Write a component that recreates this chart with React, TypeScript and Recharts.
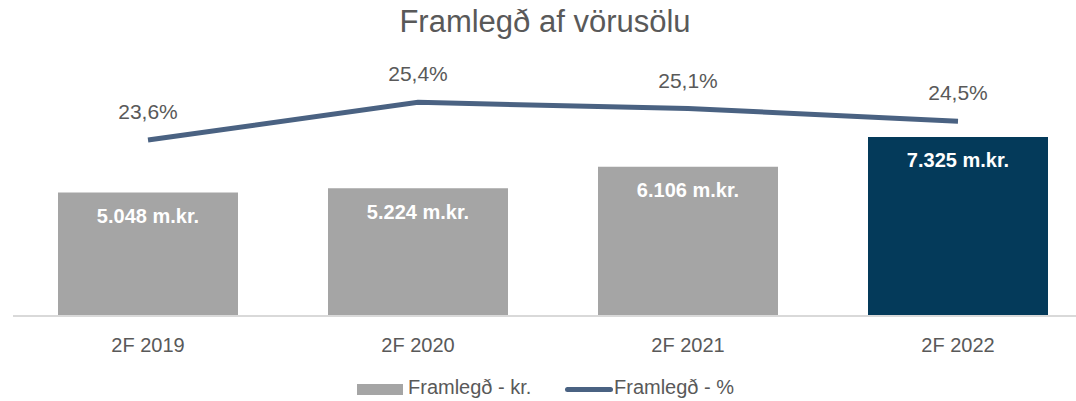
import { Bar, Cell, ComposedChart, LabelList, Line, XAxis, YAxis } from "recharts";

const categories = ["2F 2019", "2F 2020", "2F 2021", "2F 2022"];
const framlegdKr = [5048, 5224, 6106, 7325];
const framlegdPct = [23.6, 25.4, 25.1, 24.5];

const GREY_BAR = "#A5A5A5";
const NAVY_BAR = "#043A5A";
const LINE_COLOR = "#4A6282";
const TEXT = "#595959";
const FONT = "'Liberation Sans', Arial, sans-serif";

const data = categories.map((name, i) => ({
  name,
  kr: framlegdKr[i],
  pct: framlegdPct[i],
}));

const fmtKr = (v: number) =>
  `${Math.floor(v / 1000)}.${String(v % 1000).padStart(3, "0")} m.kr.`;
const fmtPct = (v: number) => `${v.toFixed(1).replace(".", ",")}%`;

export default function App() {
  return (
    <div
      style={{
        position: "absolute",
        left: 0,
        top: 0,
        width: 1076,
        height: 401,
        overflow: "hidden",
        background: "#fff",
        fontFamily: FONT,
      }}
    >
      <div
        style={{
          position: "absolute",
          top: 4,
          left: 0,
          width: 1090,
          textAlign: "center",
          fontSize: 31,
          color: TEXT,
          whiteSpace: "nowrap",
        }}
      >
        Framlegð af vörusölu
      </div>

      <ComposedChart
        width={1100}
        height={401}
        data={data}
        margin={{ top: 96, right: 7, bottom: 40, left: 13 }}
        style={{ position: "absolute", left: 0, top: 0 }}
      >
        <XAxis
          dataKey="name"
          axisLine={{ stroke: "#D9D9D9", strokeWidth: 2 }}
          tickLine={false}
          tickSize={0}
          tickMargin={22}
          height={45}
          tick={{ fill: TEXT, fontSize: 20, fontFamily: FONT }}
        />
        <YAxis yAxisId="kr" domain={[0, 9000]} hide />
        <YAxis yAxisId="pct" orientation="right" domain={[15.2, 25.7]} hide />
        <Bar yAxisId="kr" dataKey="kr" barSize={180} isAnimationActive={false}>
          {data.map((_, i) => (
            <Cell key={i} fill={i === data.length - 1 ? NAVY_BAR : GREY_BAR} />
          ))}
          <LabelList
            dataKey="kr"
            position="insideTop"
            offset={16}
            formatter={(v: number) => fmtKr(v)}
            style={{ fill: "#fff", fontSize: 20, fontWeight: "bold", fontFamily: FONT }}
          />
        </Bar>
        <Line
          yAxisId="pct"
          dataKey="pct"
          stroke={LINE_COLOR}
          strokeWidth={5}
          dot={false}
          activeDot={false}
          isAnimationActive={false}
        >
          <LabelList
            dataKey="pct"
            position="top"
            offset={21}
            formatter={(v: number) => fmtPct(v)}
            style={{ fill: TEXT, fontSize: 21, fontFamily: FONT }}
          />
        </Line>
      </ComposedChart>

      <div style={{ position: "absolute", left: 357, top: 384, width: 46, height: 11, background: GREY_BAR }} />
      <div style={{ position: "absolute", left: 408, top: 376, fontSize: 20, color: TEXT, whiteSpace: "nowrap" }}>
        Framlegð - kr.
      </div>
      <div
        style={{
          position: "absolute",
          left: 565,
          top: 387,
          width: 48,
          height: 5,
          borderRadius: 2.5,
          background: LINE_COLOR,
        }}
      />
      <div style={{ position: "absolute", left: 614, top: 376, fontSize: 20, color: TEXT, whiteSpace: "nowrap" }}>
        Framlegð - %
      </div>
    </div>
  );
}
